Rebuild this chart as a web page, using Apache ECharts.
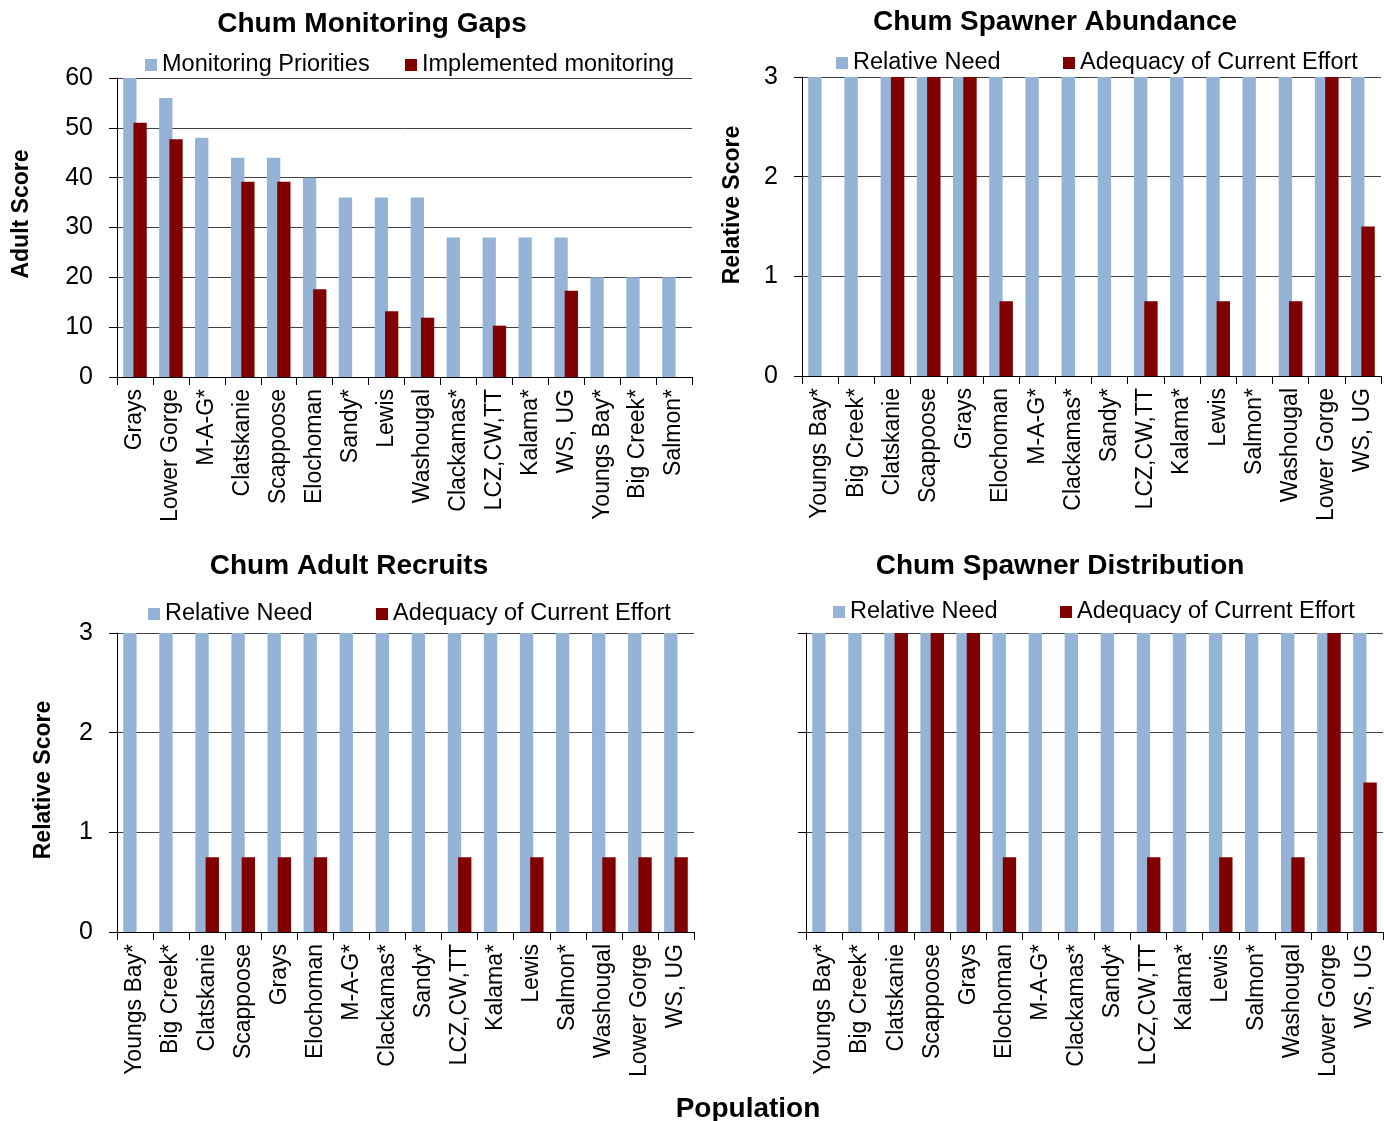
<!DOCTYPE html>
<html>
<head>
<meta charset="utf-8">
<script src="https://cdn.jsdelivr.net/npm/echarts@6/dist/echarts.min.js"></script>
<style>
  html, body { margin: 0; padding: 0; background: #fff; }
  #chart { width: 1384px; height: 1121px; }
</style>
</head>
<body>
<div id="chart"></div>
<script>
// ---- Data ----
const gapsCategories = ['Grays','Lower Gorge','M-A-G*','Clatskanie','Scappoose','Elochoman','Sandy*','Lewis','Washougal','Clackamas*','LCZ,CW,TT','Kalama*','WS, UG','Youngs Bay*','Big Creek*','Salmon*'];
const gapsPriorities = [60, 56, 48, 44, 44, 40, 36, 36, 36, 28, 28, 28, 28, 20, 20, 20];
const gapsImplemented = [51, 47.7, null, 39.2, 39.2, 17.6, null, 13.2, 11.9, null, 10.3, null, 17.3, null, null, null];

const popCategories = ['Youngs Bay*','Big Creek*','Clatskanie','Scappoose','Grays','Elochoman','M-A-G*','Clackamas*','Sandy*','LCZ,CW,TT','Kalama*','Lewis','Salmon*','Washougal','Lower Gorge','WS, UG'];

const abundanceNeed = [3, 3, 3, 3, 3, 3, 3, 3, 3, 3, 3, 3, 3, 3, 3, 3];
const abundanceAdequacy = [null, null, 3, 3, 3, 0.75, null, null, null, 0.75, null, 0.75, null, 0.75, 3, 1.5];

const recruitsNeed = [3, 3, 3, 3, 3, 3, 3, 3, 3, 3, 3, 3, 3, 3, 3, 3];
const recruitsAdequacy = [null, null, 0.75, 0.75, 0.75, 0.75, null, null, null, 0.75, null, 0.75, null, 0.75, 0.75, 0.75];

const distributionNeed = [3, 3, 3, 3, 3, 3, 3, 3, 3, 3, 3, 3, 3, 3, 3, 3];
const distributionAdequacy = [null, null, 3, 3, 3, 0.75, null, null, null, 0.75, null, 0.75, null, 0.75, 3, 1.5];

const chartTitles = ['Chum Monitoring Gaps', 'Chum Spawner Abundance', 'Chum Adult Recruits', 'Chum Spawner Distribution'];
const gapsTicks = { min: 0, max: 60, interval: 10 };
const scoreTicks = { min: 0, max: 3, interval: 1 };

// ---- Style ----
const FONT = '"Liberation Sans", Arial, sans-serif';
const BLUE = '#95B3D7';
const RED = '#800000';
const GRID_LINE = '#404040';

const grids = [
  { left: 117, top: 78, width: 575, height: 299 },
  { left: 802, top: 77, width: 579, height: 299 },
  { left: 117, top: 633, width: 577, height: 299 },
  { left: 806, top: 633, width: 577, height: 299 }
];

function xAxis(i, cats) {
  return {
    type: 'category', gridIndex: i, data: cats,
    axisLine: { lineStyle: { color: '#000', width: 1 } },
    axisTick: { show: true, length: 8, lineStyle: { color: '#000' } },
    axisLabel: { rotate: 90, fontSize: 23, color: '#000', fontFamily: FONT, margin: 12, interval: 0 },
    splitLine: { show: false }
  };
}
function yAxis(i, t, showLabels) {
  return {
    type: 'value', gridIndex: i, min: t.min, max: t.max, interval: t.interval,
    axisLine: { show: true, lineStyle: { color: '#000', width: 1 } },
    axisTick: { show: true, length: 8, lineStyle: { color: '#000' } },
    axisLabel: { show: showLabels, fontSize: 25, color: '#000', fontFamily: FONT, margin: 24 },
    splitLine: { show: true, lineStyle: { color: GRID_LINE, width: 1 } }
  };
}
function bar(name, i, data, color) {
  return {
    type: 'bar', name: name, xAxisIndex: i, yAxisIndex: i, data: data,
    barWidth: '37%', barGap: '-23%',
    itemStyle: { color: color },
    animation: false
  };
}
function legend(name, left, top) {
  return {
    data: [name], left: left - 5, top: top - 3, icon: 'rect', itemWidth: 12, itemHeight: 12, itemGap: 0,
    selectedMode: false,
    textStyle: { fontSize: 23.5, color: '#000', fontFamily: FONT }
  };
}
function ytitle(text, x, y) {
  return {
    type: 'text', x: x, y: y, rotation: Math.PI / 2,
    style: { text: text, font: 'bold 23px ' + FONT, fill: '#000', textAlign: 'center', textVerticalAlign: 'middle' }
  };
}
function title(text, cx, top) {
  return { text: text, left: cx - 5, top: top, textAlign: 'center',
    textStyle: { fontSize: 28, fontWeight: 'bold', color: '#000', fontFamily: FONT } };
}

const chart = echarts.init(document.getElementById('chart'), null, { renderer: 'canvas' });
chart.setOption({
  backgroundColor: '#fff',
  animation: false,
  title: [
    title(chartTitles[0], 372, 5),
    title(chartTitles[1], 1055, 3),
    title(chartTitles[2], 349, 547),
    title(chartTitles[3], 1060, 547),
    title('Population', 748, 1090)
  ],
  legend: [
    legend('Monitoring Priorities', 145, 51),
    legend('Implemented monitoring', 405, 51),
    legend('Relative Need', 836, 49),
    legend('Adequacy of Current Effort', 1063, 49),
    legend('Relative Need', 148, 600),
    legend('Adequacy of Current Effort', 376, 600),
    legend('Relative Need', 833, 598),
    legend('Adequacy of Current Effort', 1060, 598)
  ],
  grid: grids,
  xAxis: [xAxis(0, gapsCategories), xAxis(1, popCategories), xAxis(2, popCategories), xAxis(3, popCategories)],
  yAxis: [yAxis(0, gapsTicks, true), yAxis(1, scoreTicks, true), yAxis(2, scoreTicks, true), yAxis(3, scoreTicks, false)],
  series: [
    bar('Monitoring Priorities', 0, gapsPriorities, BLUE),
    bar('Implemented monitoring', 0, gapsImplemented, RED),
    bar('Relative Need', 1, abundanceNeed, BLUE),
    bar('Adequacy of Current Effort', 1, abundanceAdequacy, RED),
    bar('Relative Need', 2, recruitsNeed, BLUE),
    bar('Adequacy of Current Effort', 2, recruitsAdequacy, RED),
    bar('Relative Need', 3, distributionNeed, BLUE),
    bar('Adequacy of Current Effort', 3, distributionAdequacy, RED)
  ],
  graphic: [
    ytitle('Adult Score', 22, 214),
    ytitle('Relative Score', 733, 205),
    ytitle('Relative Score', 44, 780)
  ]
});
</script>
</body>
</html>
